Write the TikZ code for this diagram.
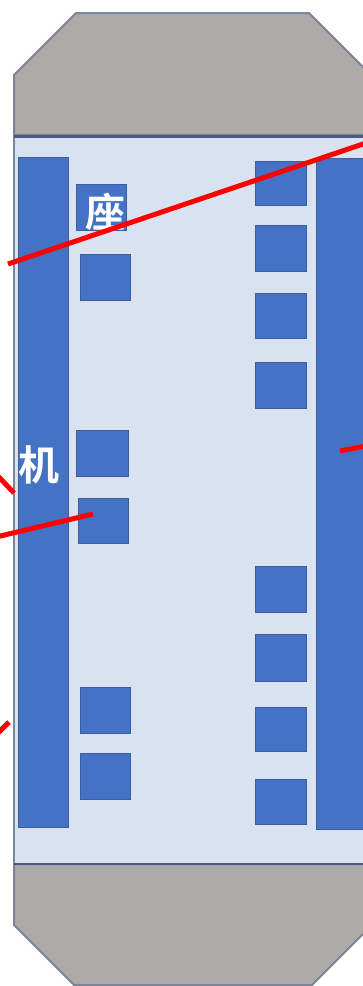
\documentclass[tikz,border=0pt]{standalone}
\usepackage{fontspec}
\newfontfamily\cjk{Noto Sans CJK SC}[BoldFont={Noto Sans CJK SC Bold}]
\definecolor{capgray}{HTML}{AEAAA7}
\definecolor{capline}{HTML}{7B8599}
\definecolor{bodyblue}{HTML}{D9E2F1}
\definecolor{chipblue}{HTML}{4472C4}
\definecolor{chipline}{HTML}{3A5E9E}
\definecolor{seamline}{HTML}{4A5A80}
\definecolor{redline}{HTML}{FF0000}
\tikzset{
  capshape/.style={fill=capgray,draw=capline,line width=2pt,line join=round},
  bodyshape/.style={fill=bodyblue,draw=capline,line width=2.4pt},
  seam/.style={draw=seamline,line width=2.4pt},
  chip/.style={rectangle,fill=chipblue,draw=chipline,line width=1.4pt,inner sep=0pt,outer sep=0pt},
  bar/.style={chip,line width=1.8pt},
  redwire/.style={draw=redline,line width=5pt},
  glyph/.style={text=white,font=\cjk\bfseries,inner sep=0pt},
}
\newcommand{\chipat}[5]{\node[chip,minimum width=#4 pt-#2 pt-1pt,minimum height=#5 pt-#3 pt-1pt,anchor=north west] (#1) at (#2+0.5,#3+0.5) {};}
\begin{document}
\begin{tikzpicture}[x=1pt,y=-1pt]
\useasboundingbox (0,0) rectangle (363,986);
\clip (0,0) rectangle (363,986);
% body
\draw[bodyshape] (14,136) -- (14,864) -- (380,864) -- (380,136) -- cycle;
% end caps
\draw[capshape] (14,135) -- (14,75) -- (76,13) -- (309,13) -- (380,84) -- (380,135) -- cycle;
\draw[capshape] (14,864) -- (14,925) -- (74,985) -- (312,985) -- (380,917) -- (380,864) -- cycle;
\coordinate (seamTL) at (14,136.5);
\coordinate (seamTR) at (380,136.5);
\coordinate (seamBL) at (14,864);
\coordinate (seamBR) at (380,864);
\draw[seam] (seamTL) -- (seamTR);
\draw[seam] (seamBL) -- (seamBR);
% long bars
\node[bar,minimum width=50pt,minimum height=670pt,anchor=north west] (barL) at (18.5,157.5) {};
\node[bar,minimum width=60pt,minimum height=671pt,anchor=north west] (barR) at (316.5,158.5) {};
% left chips
\chipat{la}{76}{184}{127}{231}
\chipat{lb}{80}{254}{131}{301}
\chipat{lc}{76}{430}{129}{477}
\chipat{ld}{78}{498}{129}{544}
\chipat{le}{80}{687}{131}{734}
\chipat{lf}{80}{753}{131}{800}
% right chips
\chipat{ra}{255}{161}{307}{206}
\chipat{rb}{255}{225}{307}{272}
\chipat{rc}{255}{293}{307}{339}
\chipat{rd}{255}{362}{307}{409}
\chipat{re}{255}{566}{307}{613}
\chipat{rf}{255}{634}{307}{682}
\chipat{rg}{255}{707}{307}{752}
\chipat{rh}{255}{779}{307}{825}
% labels
\node[glyph,font=\cjk\bfseries\fontsize{40pt}{40pt}\selectfont] (zuo) at (105,212) {座};
\node[glyph,font=\cjk\bfseries\fontsize{41pt}{41pt}\selectfont] (ji) at (38.5,465) {机};
% red lines
\coordinate (w1a) at (8,264);
\coordinate (w1b) at (366,143);
\coordinate (w2a) at (-4,537);
\coordinate (w2b) at (93,514);
\coordinate (w3a) at (-3,475);
\coordinate (w3b) at (14,493);
\coordinate (w4a) at (-3,734);
\coordinate (w4b) at (9,722);
\coordinate (w5a) at (340,451);
\coordinate (w5b) at (366,446);
\draw[redwire] (w1a) -- (w1b);
\draw[redwire] (w2a) -- (w2b);
\draw[redwire] (w3a) -- (w3b);
\draw[redwire] (w4a) -- (w4b);
\draw[redwire] (w5a) -- (w5b);
\end{tikzpicture}
\end{document}
